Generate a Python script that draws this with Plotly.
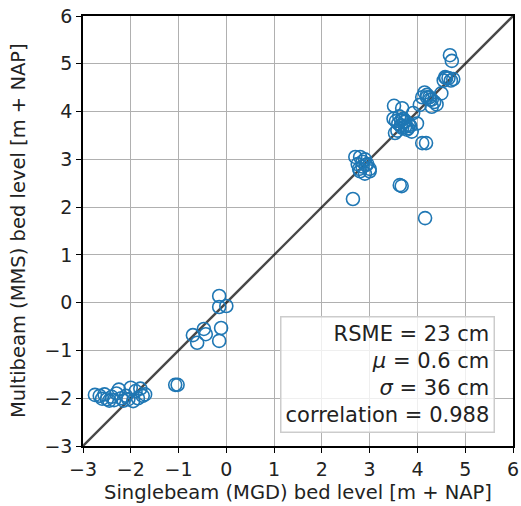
import plotly.graph_objects as go

singlebeam = [
    -2.75, -2.65, -2.55, -2.5, -2.45, -2.4, -2.3, -2.25, -2.2, -2.15, -2.1, -2.05, -2.0, -1.95, -1.9, -1.85, -1.8, -1.75, -1.7, -2.35, -2.6,
    -1.07, -1.02, -0.70, -0.61, -0.47, -0.43, -0.11, -0.15, -0.15, 0.0, -0.15,
    2.70, 2.80, 2.90, 2.75, 2.85, 2.95, 3.00, 2.80, 2.90, 3.00, 2.85, 2.78, 2.92,
    2.65, 3.63, 3.67, 4.16,
    3.51, 3.68, 3.91, 3.50, 3.55, 3.60, 3.65, 3.70, 3.75, 3.80, 3.58, 3.62, 3.72, 3.78, 3.85, 3.53, 3.66, 3.74, 3.82, 3.88, 3.99, 3.68, 4.18,
    4.10, 4.15, 4.20, 4.10, 4.30, 4.25, 4.35, 4.40, 4.20, 4.30, 4.26, 4.05,
    4.50, 4.60, 4.65, 4.70, 4.75, 4.55,
    4.58, 4.68, 4.72,
]
multibeam = [
    -1.93, -1.95, -1.92, -2.02, -2.05, -1.97, -1.90, -1.82, -2.00, -2.05, -1.95, -2.02, -1.78, -2.06, -1.85, -2.00, -1.80, -1.95, -1.92, -2.04, -2.01,
    -1.72, -1.72, -0.68, -0.84, -0.55, -0.66, -0.53, -0.80, -0.09, -0.07, 0.14,
    3.05, 3.05, 3.00, 2.90, 2.85, 2.90, 2.80, 2.75, 2.70, 2.75, 2.95, 2.80, 2.88,
    2.17, 2.46, 2.44, 1.77,
    4.12, 4.07, 3.97, 3.85, 3.80, 3.75, 3.70, 3.85, 3.80, 3.65, 3.60, 3.90, 3.78, 3.62, 3.70, 3.55, 3.82, 3.68, 3.72, 3.58, 3.75, 3.66, 3.34, 3.34,
    4.40, 4.35, 4.30, 4.25, 4.30, 4.20, 4.15, 4.30, 4.10, 4.25, 4.14, 4.38,
    4.70, 4.70, 4.65, 4.68, 4.65, 4.72,
    5.18, 5.06, 5.03,
]
line_x = [-3, 6]
line_y = [-3, 6]
ticks = [-3, -2, -1, 0, 1, 2, 3, 4, 5, 6]
tick_labels = ["\u22123", "\u22122", "\u22121", "0", "1", "2", "3", "4", "5", "6"]
x_title = "Singlebeam (MGD) bed level [m + NAP]"
y_title = "Multibeam (MMS) bed level [m + NAP]"
stats_text = "RSME = 23 cm<br><i>μ</i> = 0.6 cm<br><i>σ</i> = 36 cm<br>correlation = 0.988"

fig = go.Figure()
fig.add_trace(go.Scatter(x=line_x, y=line_y, mode="lines",
                         line=dict(color="rgba(0,0,0,0.72)", width=2.3), showlegend=False))
fig.add_trace(go.Scatter(x=singlebeam, y=multibeam, mode="markers",
                         marker=dict(symbol="circle-open", size=13, color="#1f77b4",
                                     line=dict(width=1.6, color="#1f77b4")),
                         showlegend=False))

axis_common = dict(
    range=[-3, 6], tickvals=ticks, ticktext=tick_labels,
    showgrid=True, gridcolor="#b0b0b0", gridwidth=1,
    zeroline=False, showline=True, linecolor="black", linewidth=1.6, mirror=True,
    ticks="outside", ticklen=5, tickwidth=1.2, tickcolor="black",
    tickfont=dict(size=19, color="#222"), automargin=False,
    ticklabeloverflow="allow",
)
fig.update_xaxes(**axis_common)
fig.update_yaxes(**axis_common)

fig.add_annotation(xref="paper", yref="paper", x=0.5, y=-0.109, xanchor="center", yanchor="middle",
                   text=x_title, showarrow=False, font=dict(size=19.5, color="#222"))
fig.add_annotation(xref="paper", yref="paper", x=-0.151, y=0.5, xanchor="center", yanchor="middle",
                   text=y_title, showarrow=False, textangle=-90, font=dict(size=19.5, color="#222"))

fig.add_annotation(xref="paper", yref="paper", x=0.958, y=0.03, xanchor="right", yanchor="bottom",
                   text=stats_text, showarrow=False, align="right",
                   font=dict(size=21, color="#222"),
                   bgcolor="rgba(255,255,255,0.8)", bordercolor="#cccccc", borderwidth=1.5, borderpad=4)

fig.update_layout(
    width=521, height=506,
    margin=dict(l=83, r=8, t=16, b=60),
    plot_bgcolor="white", paper_bgcolor="white",
    font=dict(family="DejaVu Sans"),
)
fig.write_html("out.html", config={"displayModeBar": False},
               post_script="document.body.style.margin='0';")
